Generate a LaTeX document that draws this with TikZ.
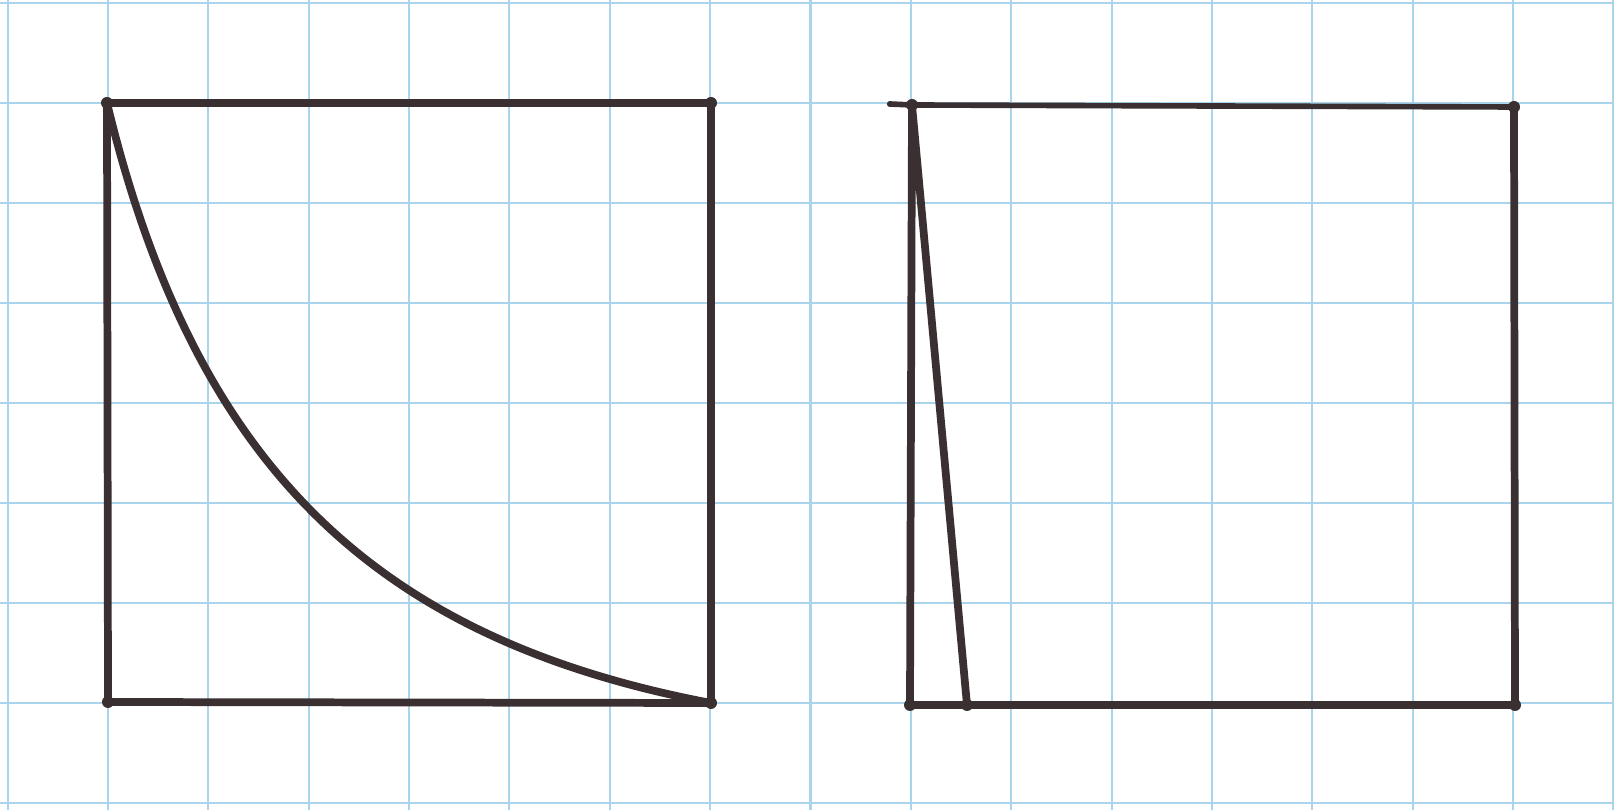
\documentclass[tikz,border=0pt]{standalone}
\definecolor{gridblue}{RGB}{170,212,236}
\definecolor{ink}{RGB}{58,48,50}
\begin{document}
\begin{tikzpicture}[x=0.01cm,y=-0.01cm,
  gridline/.style={draw=gridblue,line width=0.6pt},
  pen/.style={draw=ink,line width=2.2pt,line cap=round,line join=round},
  thinpen/.style={draw=ink,line width=1.6pt,line cap=round},
  dotmark/.style={circle,fill=ink,inner sep=0pt,minimum size=0.12cm}]
\fill[white] (0,0) rectangle (1614,810);
\useasboundingbox (0,0) rectangle (1614,810);
\foreach \i in {0,...,16} \draw[gridline] ({7.6+100.36*\i},0) -- ({7.6+100.36*\i},810);
\foreach \j in {0,...,8} \draw[gridline] (0,{3+100*\j}) -- (1614,{3+100*\j});
% left square
\coordinate (LA) at (107,103);
\coordinate (LB) at (711,103);
\coordinate (LC) at (711,703);
\coordinate (LD) at (108,702);
\draw[pen] (LA) -- (LB) -- (LC) -- (LD) -- cycle;
\draw[pen] (LA) .. controls (196,472) and (380,640) .. (LC);
% right square
\coordinate (RS) at (890,104);
\coordinate (RA) at (912,105);
\coordinate (RB) at (1514,107);
\coordinate (RC) at (1515,705);
\coordinate (RD) at (910,705);
\coordinate (RE) at (967,705);
\draw[thinpen] (RS) -- (RA) -- (RB);
\draw[pen] (RB) -- (RC) -- (RD) -- (RA) -- (RE);
\foreach \c in {LA,LB,LC,LD,RA,RB,RC,RD,RE} \node[dotmark] (d\c) at (\c) {};
\node[circle,fill=ink,inner sep=0pt,minimum size=0.06cm] (dRS) at (RS) {};
\end{tikzpicture}
\end{document}
